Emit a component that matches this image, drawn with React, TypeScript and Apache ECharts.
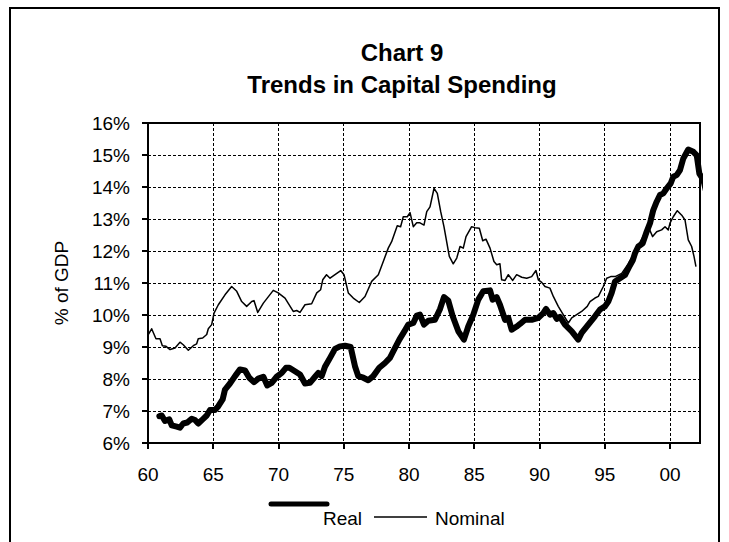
import React, { useEffect, useRef } from "react";
import * as echarts from "echarts";

// Nominal capital spending, % of GDP  [year, value]
const nominalYears: number[] = [
  1960.02, 1960.28, 1960.61, 1960.92, 1961.1, 1961.38, 1961.69, 1962.07, 1962.45, 1962.7,
  1963.09, 1963.47, 1963.73, 1963.85, 1964.19, 1964.5, 1964.62, 1964.88, 1965.06, 1965.39,
  1965.9, 1966.41, 1966.8, 1967.18, 1967.56, 1967.95, 1968.12, 1968.41, 1968.84, 1969.6,
  1969.98, 1970.5, 1971.13, 1971.39, 1971.65, 1972.03, 1972.54, 1972.93, 1973.23, 1973.39,
  1973.68, 1973.95, 1974.33, 1974.77, 1975.02, 1975.35, 1975.73, 1976.19, 1976.63, 1977.14,
  1977.65, 1978.03, 1978.41, 1978.67, 1979.1, 1979.36, 1979.56, 1979.87, 1980.08, 1980.33,
  1980.59, 1980.84, 1981.15, 1981.36, 1981.61, 1981.92, 1982.17, 1982.43, 1982.68, 1983.09,
  1983.39, 1983.66, 1983.91, 1984.16, 1984.37, 1984.8, 1985.06, 1985.39, 1985.65, 1985.9,
  1986.21, 1986.51, 1986.72, 1986.97, 1987.1, 1987.36, 1987.61, 1987.95, 1988.25, 1988.64,
  1989.02, 1989.4, 1989.73, 1989.91, 1990.17, 1990.42, 1990.8, 1991.06, 1991.44, 1991.82,
  1992.21, 1992.47, 1992.85, 1993.23, 1993.66, 1993.87, 1994.25, 1994.51, 1994.89, 1995.15,
  1995.46, 1995.8, 1996.3, 1996.8, 1997.2, 1997.6, 1998.0, 1998.34, 1998.67, 1998.98,
  1999.36, 1999.62, 1999.87, 2000.0, 2000.25, 2000.56, 2000.9, 2001.15, 2001.4, 2001.66,
  2001.84, 2001.99,
];
const nominalValues: number[] = [
  9.39, 9.57, 9.26, 9.26, 9.04, 9.02, 8.92, 8.97, 9.15, 9.07,
  8.9, 9.04, 9.1, 9.26, 9.28, 9.39, 9.57, 9.7, 10.06, 10.32,
  10.63, 10.89, 10.74, 10.42, 10.27, 10.42, 10.45, 10.08, 10.37, 10.77,
  10.69, 10.53, 10.11, 10.14, 10.08, 10.32, 10.35, 10.69, 10.79, 11.1,
  11.26, 11.15, 11.26, 11.39, 11.26, 10.69, 10.53, 10.39, 10.58, 11.05,
  11.26, 11.67, 12.09, 12.29, 12.79, 12.76, 13.07, 13.07, 13.2, 12.76,
  12.88, 12.88, 12.81, 13.23, 13.38, 13.96, 13.8, 13.23, 12.76, 11.83,
  11.6, 11.78, 12.14, 12.09, 12.45, 12.76, 12.73, 12.71, 12.32, 12.37,
  12.09, 11.67, 11.57, 11.6, 11.1, 11.08, 11.26, 11.08, 11.26, 11.18,
  11.15, 11.2, 11.39, 11.1, 11.02, 10.89, 10.84, 10.58, 10.27, 10.01,
  9.75, 9.91, 10.01, 10.11, 10.27, 10.42, 10.53, 10.58, 10.89, 11.15,
  11.2, 11.2, 11.3, 11.6, 11.9, 12.2, 12.5, 12.76, 12.45, 12.6,
  12.66, 12.76, 12.66, 12.87, 13.07, 13.26, 13.12, 12.97, 12.35, 12.14,
  11.83, 11.51,
];

// Real capital spending, % of GDP  [year, value]
const realYears: number[] = [
  1960.87, 1961.05, 1961.3, 1961.63, 1961.82, 1962.2, 1962.45, 1962.7, 1963.01, 1963.35,
  1963.6, 1963.85, 1964.19, 1964.5, 1964.75, 1965.13, 1965.39, 1965.72, 1965.9, 1966.28,
  1966.67, 1967.05, 1967.43, 1967.76, 1968.12, 1968.45, 1968.84, 1969.14, 1969.48, 1969.86,
  1970.25, 1970.57, 1970.83, 1971.26, 1971.65, 1972.03, 1972.41, 1972.8, 1973.05, 1973.31,
  1973.56, 1973.95, 1974.33, 1974.71, 1975.1, 1975.53, 1975.86, 1976.11, 1976.5, 1976.88,
  1977.26, 1977.72, 1978.16, 1978.54, 1978.93, 1979.26, 1979.69, 1979.95, 1980.33, 1980.59,
  1980.84, 1981.15, 1981.48, 1981.99, 1982.38, 1982.68, 1983.01, 1983.35, 1983.78, 1984.21,
  1984.54, 1984.93, 1985.31, 1985.69, 1986.21, 1986.41, 1986.72, 1986.97, 1987.36, 1987.61,
  1987.87, 1988.25, 1988.51, 1988.89, 1989.4, 1989.91, 1990.29, 1990.5, 1990.8, 1991.06,
  1991.32, 1991.57, 1991.95, 1992.47, 1992.97, 1993.23, 1993.74, 1994.25, 1994.64, 1995.02,
  1995.27, 1995.53, 1995.79, 1996.17, 1996.55, 1996.88, 1997.16, 1997.32, 1997.57, 1997.91,
  1998.21, 1998.47, 1998.72, 1998.98, 1999.23, 1999.49, 1999.75, 2000.05, 2000.25, 2000.51,
  2000.77, 2001.02, 2001.4, 2001.79, 2002.05, 2002.25, 2002.56, 2002.86,
];
const realValues: number[] = [
  6.84, 6.86, 6.69, 6.74, 6.55, 6.51, 6.48, 6.61, 6.64, 6.76,
  6.72, 6.61, 6.74, 6.86, 7.03, 7.03, 7.15, 7.36, 7.67, 7.86,
  8.09, 8.3, 8.27, 8.04, 7.9, 8.01, 8.07, 7.8, 7.88, 8.07,
  8.19, 8.35, 8.35, 8.24, 8.14, 7.86, 7.88, 8.07, 8.19, 8.09,
  8.38, 8.66, 8.94, 9.02, 9.04, 9.0, 8.4, 8.09, 8.04, 7.96,
  8.09, 8.35, 8.5, 8.66, 8.97, 9.23, 9.52, 9.7, 9.75, 9.98,
  10.01, 9.7, 9.82, 9.85, 10.19, 10.56, 10.45, 9.96, 9.49, 9.23,
  9.64, 10.01, 10.48, 10.74, 10.77, 10.48, 10.56, 10.32, 9.85, 9.91,
  9.54, 9.64, 9.72, 9.85, 9.85, 9.91, 10.06, 10.19, 10.01, 10.06,
  9.88, 9.94, 9.7, 9.49, 9.23, 9.44, 9.7, 9.96, 10.17, 10.27,
  10.42, 10.69, 11.05, 11.15, 11.25, 11.51, 11.72, 11.93, 12.14, 12.24,
  12.6, 12.87, 13.28, 13.54, 13.75, 13.8, 13.96, 14.11, 14.32, 14.37,
  14.53, 14.89, 15.17, 15.1, 14.99, 14.42, 14.22, 13.7,
];

const yTicks: number[] = [6, 7, 8, 9, 10, 11, 12, 13, 14, 15, 16];
const xTickYears: number[] = [1960, 1965, 1970, 1975, 1980, 1985, 1990, 1995, 2000];

const FONT = "'Liberation Sans', Arial, Helvetica, sans-serif";

export default function App() {
  const ref = useRef<HTMLDivElement>(null);
  useEffect(() => {
    if (!ref.current) return;
    const chart = echarts.init(ref.current, null, { renderer: "svg" });
    const nominal = nominalYears.map((x, i) => [x, nominalValues[i]]);
    const real = realYears.map((x, i) => [x, realValues[i]]);
    chart.setOption({
      animation: false,
      backgroundColor: "#fff",
      textStyle: { fontFamily: FONT, color: "#000" },
      title: {
        text: "Chart 9\nTrends in Capital Spending",
        left: 397,
        top: 31,
        textAlign: "center",
        textStyle: {
          fontFamily: FONT,
          fontSize: 24,
          fontWeight: "bold",
          color: "#000",
          lineHeight: 32,
        },
      },
      grid: {
        left: 148,
        top: 123,
        right: 29,
        bottom: 99,
        show: true,
        borderColor: "#000",
        borderWidth: 2,
        backgroundColor: "transparent",
      },
      xAxis: {
        type: "value",
        min: 1960,
        max: 2002.3,
        interval: 5,
        axisLine: { show: true, lineStyle: { color: "#000", width: 2 } },
        axisTick: { show: true, length: 6, lineStyle: { color: "#000", width: 2 } },
        axisLabel: {
          margin: 22,
          fontSize: 19,
          fontFamily: FONT,
          color: "#000",
          showMaxLabel: false,
          formatter: (v: number) =>
            xTickYears.includes(Math.round(v)) && Math.abs(v - Math.round(v)) < 1e-6
              ? String(Math.round(v) % 100).padStart(2, "0")
              : "",
        },
        splitLine: {
          show: true,
          lineStyle: { color: "#000", width: 1, type: [3, 2] },
        },
      },
      yAxis: {
        type: "value",
        min: yTicks[0],
        max: yTicks[yTicks.length - 1],
        interval: 1,
        name: "% of GDP",
        nameLocation: "middle",
        nameRotate: 90,
        nameGap: 77,
        nameTextStyle: { fontSize: 19, fontFamily: FONT, color: "#000" },
        axisLine: { show: true, lineStyle: { color: "#000", width: 2 } },
        axisTick: { show: true, length: 6, lineStyle: { color: "#000", width: 2 } },
        axisLabel: {
          margin: 18,
          fontSize: 19,
          fontFamily: FONT,
          color: "#000",
          formatter: "{value}%",
        },
        splitLine: {
          show: true,
          lineStyle: { color: "#000", width: 1, type: [3, 2] },
        },
      },
      series: [
        {
          name: "Nominal",
          type: "line",
          data: nominal,
          showSymbol: false,
          symbol: "none",
          clip: false,
          lineStyle: { color: "#000", width: 1.5, join: "round" },
          z: 2,
        },
        {
          name: "Real",
          type: "line",
          data: real,
          showSymbol: false,
          symbol: "none",
          clip: false,
          lineStyle: { color: "#000", width: 6, join: "round", cap: "round" },
          z: 3,
        },
      ],
      graphic: [
        {
          type: "rect",
          shape: { x: 10, y: 8, width: 709, height: 600 },
          style: { fill: "none", stroke: "#000", lineWidth: 2 },
          silent: true,
        },
        {
          type: "line",
          shape: { x1: 271, y1: 504, x2: 327, y2: 504 },
          style: { stroke: "#000", lineWidth: 5, lineCap: "round" },
        },
        {
          type: "text",
          x: 323,
          y: 518,
          style: {
            text: "Real",
            fontSize: 19,
            fontFamily: FONT,
            fill: "#000",
            verticalAlign: "middle",
            align: "left",
          },
        },
        {
          type: "line",
          shape: { x1: 374, y1: 517, x2: 427, y2: 517 },
          style: { stroke: "#000", lineWidth: 1.5 },
        },
        {
          type: "text",
          x: 435,
          y: 518,
          style: {
            text: "Nominal",
            fontSize: 19,
            fontFamily: FONT,
            fill: "#000",
            verticalAlign: "middle",
            align: "left",
          },
        },
      ],
    });
    return () => chart.dispose();
  }, []);
  return (
    <div
      ref={ref}
      style={{ position: "fixed", left: 0, top: 0, width: 729, height: 542 }}
    />
  );
}
